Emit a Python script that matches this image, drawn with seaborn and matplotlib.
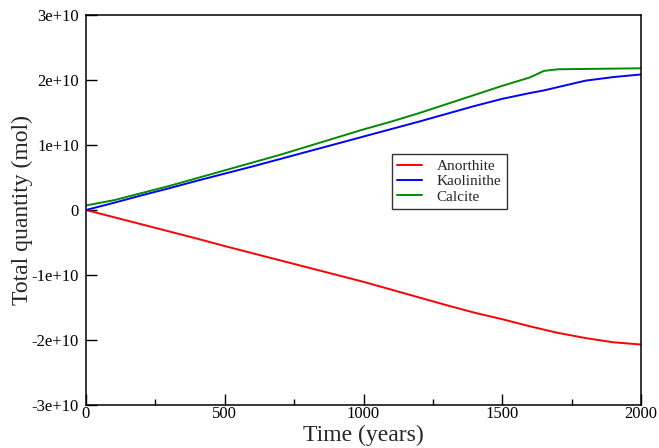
import numpy as np
import pandas as pd
import matplotlib
matplotlib.use("Agg")
import matplotlib.pyplot as plt
import seaborn as sns
from matplotlib.ticker import MultipleLocator, FuncFormatter

# Time axis (years) and total quantities (units of 1e10 mol)
time = [0, 100, 200, 300, 400, 500, 600, 700, 800, 900, 1000, 1100, 1200,
        1300, 1400, 1500, 1600, 1650, 1700, 1800, 1900, 2000]
anorthite = [0.0, -0.11, -0.22, -0.33, -0.44, -0.555, -0.665, -0.775, -0.885,
             -0.995, -1.105, -1.225, -1.345, -1.465, -1.58, -1.68, -1.79,
             -1.84, -1.89, -1.97, -2.035, -2.07]
kaolinithe = [0.0, 0.11, 0.225, 0.335, 0.45, 0.56, 0.67, 0.785, 0.90, 1.015,
              1.13, 1.245, 1.36, 1.48, 1.60, 1.71, 1.80, 1.84, 1.89, 1.99,
              2.045, 2.085]
calcite = [0.07, 0.15, 0.26, 0.37, 0.49, 0.61, 0.73, 0.85, 0.98, 1.11, 1.24,
           1.36, 1.49, 1.63, 1.77, 1.91, 2.04, 2.14, 2.165, 2.17, 2.175, 2.18]

series_names = ["Anorthite", "Kaolinithe", "Calcite"]
series_colors = ["#ff0000", "#0000ff", "#008b00"]

frames = []
for name, vals in zip(series_names, [anorthite, kaolinithe, calcite]):
    frames.append(pd.DataFrame({"time": time,
                                "qty": np.array(vals) * 1e10,
                                "mineral": name}))
df = pd.concat(frames, ignore_index=True)

sns.set_theme(style="white")
plt.rcParams["font.family"] = ["Liberation Serif", "DejaVu Serif"]

fig = plt.figure(figsize=(6.59, 4.48), dpi=100)
ax = fig.add_axes([86 / 659, 1 - 405 / 448, 555 / 659, 390 / 448])

sns.lineplot(data=df, x="time", y="qty", hue="mineral",
             hue_order=series_names, palette=series_colors,
             linewidth=1.4, ax=ax, legend=False, sort=False)

ax.set_xlim(0, 2000)
ax.set_ylim(-3e10, 3e10)
ax.xaxis.set_major_locator(MultipleLocator(500))
ax.xaxis.set_minor_locator(MultipleLocator(250))
ax.yaxis.set_major_locator(MultipleLocator(1e10))


def sci_fmt(v, pos):
    if abs(v) < 1:
        return "0"
    m = v / 1e10
    return f"{int(round(m))}e+10"


ax.yaxis.set_major_formatter(FuncFormatter(sci_fmt))

ax.tick_params(axis="both", which="major", direction="in", length=8,
               width=1, color="black", labelsize=12, labelcolor="black",
               bottom=True, left=True, top=False, right=False)
ax.tick_params(axis="x", which="minor", direction="in", length=4, width=1,
               color="black", bottom=True, top=False)
ax.tick_params(axis="x", which="major", pad=1)
ax.tick_params(axis="y", which="major", pad=5)

for sp in ax.spines.values():
    sp.set_color("black")
    sp.set_linewidth(1.1)

ax.set_xlabel("Time (years)", fontsize=17, labelpad=2)
ax.set_ylabel("Total quantity (mol)", fontsize=17, labelpad=-1)
ax.grid(False)

handles = [plt.Line2D([], [], color=c, linewidth=1.4) for c in series_colors]
leg = ax.legend(handles, series_names, loc="upper left",
                bbox_to_anchor=(0.551, 0.643), frameon=True, fancybox=False,
                edgecolor="black", fontsize=11, handlelength=1.6,
                handletextpad=1.0, borderpad=0.35, labelspacing=0.1,
                borderaxespad=0)
leg.get_frame().set_linewidth(1.0)

fig.savefig("out.png", dpi=100)
